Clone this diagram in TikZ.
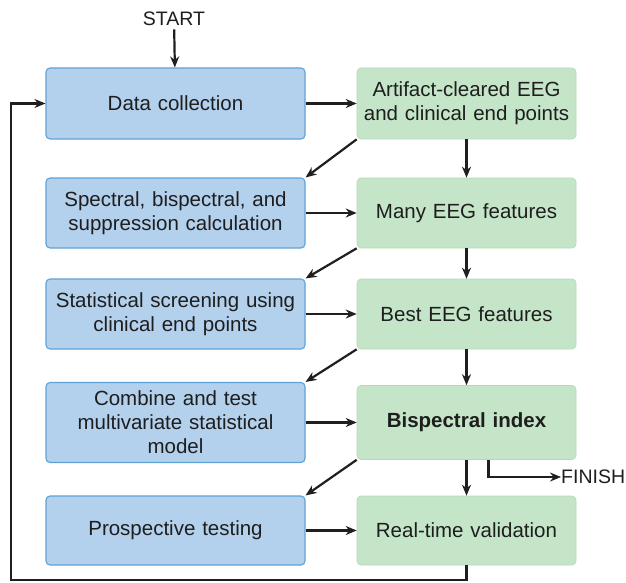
\documentclass[tikz,border=0pt]{standalone}
\usepackage{fontspec}
\setmainfont{Liberation Sans}
\usepackage{tikz}
\usetikzlibrary{arrows.meta}
\usetikzlibrary{positioning}
\definecolor{stepfill}{HTML}{B3D0EC}
\definecolor{stepline}{HTML}{5FA2D6}
\definecolor{resfill}{HTML}{C4E5C8}
\definecolor{resline}{HTML}{B2DAB7}
\definecolor{txt}{HTML}{1E1E1E}

\begin{document}
\begin{tikzpicture}[x=1pt, y=-1pt,
	stepbox/.style={rectangle, rounded corners=4pt, fill=stepfill, draw=stepline, line width=1.1pt,
		minimum width=259pt, text width=250pt, align=center, text=txt,
		font=\fontsize{20.5}{24}\selectfont},
	resbox/.style={rectangle, rounded corners=4pt, fill=resfill, draw=resline, line width=0.6pt,
		minimum width=219pt, text width=210pt, align=center, text=txt,
		font=\fontsize{20.5}{24}\selectfont},
	arr/.style={-{Stealth[length=11pt, width=9pt]}, line width=2.2pt, black!88}]

	\useasboundingbox (0,0) rectangle (626,583);

	% left column
	\node [stepbox, minimum height=71pt] (dc)   at (175.5,103.5) {Data collection};
	\node [stepbox, minimum height=70pt] (spec) at (175.5,213)   {Spectral, bispectral, and\\suppression calculation};
	\node [stepbox, minimum height=70pt] (scr)  at (175.5,314)   {Statistical screening using\\clinical end points};
	\node [stepbox, minimum height=80pt] (comb) at (175.5,422.5) {Combine and test\\multivariate statistical\\model};
	\node [stepbox, minimum height=69pt] (pros) at (175.5,530.5) {Prospective testing};

	% right column
	\node [resbox, minimum height=71pt] (art)  at (466.5,103.5) {Artifact-cleared EEG\\and clinical end points};
	\node [resbox, minimum height=70pt] (many) at (466.5,213)   {Many EEG features};
	\node [resbox, minimum height=70pt] (best) at (466.5,314)   {Best EEG features};
	\node [resbox, minimum height=74pt] (bis)  at (466.5,422.5) {\bfseries Bispectral index};
	\node [resbox, minimum height=69pt] (rtv)  at (466.5,530.5) {Real-time validation};

	\node [text=txt, font=\fontsize{19.5}{22}\selectfont] (start) at (174,19) {START};
	\node [text=txt, font=\fontsize{19.5}{22}\selectfont, anchor=west, inner sep=0pt] (fin) at (561,477) {FINISH};
	\coordinate (back) at (11,580);

	\draw [arr] (start) -- (dc);
	\draw [arr] (dc) -- (art);
	\draw [arr] (spec) -- (many);
	\draw [arr] (scr) -- (best);
	\draw [arr] (comb) -- (bis);
	\draw [arr] (pros) -- (rtv);

	\draw [arr] (art) -- (many);
	\draw [arr] (many) -- (best);
	\draw [arr] (best) -- (bis);
	\draw [arr] (bis) -- (rtv);

	\draw [arr] (art.south west) -- (spec.north east);
	\draw [arr] (many.south west) -- (scr.north east);
	\draw [arr] (best.south west) -- (comb.north east);
	\draw [arr] (bis.south west) -- (pros.north east);

	\draw [arr] ([xshift=22pt]bis.south) |- (fin.west);
	\draw [arr] (rtv.south) |- (back) |- (dc.west);
\end{tikzpicture}
\end{document}
